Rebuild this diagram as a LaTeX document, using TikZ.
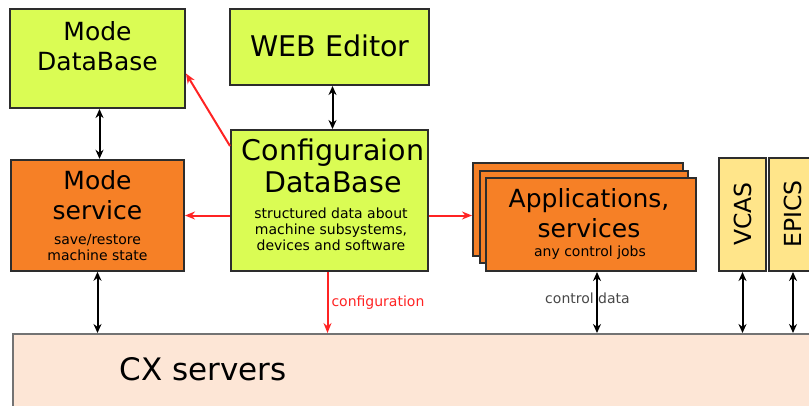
\documentclass[tikz,border=0pt]{standalone}
\usepackage{fontspec}
\setmainfont{DejaVu Sans}
\usetikzlibrary{arrows.meta}
\usetikzlibrary{calc}
\usetikzlibrary{positioning}

\definecolor{dbgreen}{RGB}{218,252,84}
\definecolor{svcorange}{RGB}{246,128,38}
\definecolor{protoyellow}{RGB}{255,229,138}
\definecolor{cxpeach}{RGB}{253,230,214}
\definecolor{cfgred}{RGB}{255,35,35}
\definecolor{edgegray}{RGB}{45,45,45}

\tikzset{
  box/.style={draw=edgegray,line width=2pt,rectangle,inner sep=0pt},
  dbbox/.style={box,fill=dbgreen},
  svcbox/.style={box,fill=svcorange},
  protobox/.style={box,fill=protoyellow},
  title/.style={font=\fontsize{25}{30}\selectfont,align=center,inner sep=0pt},
  bigtitle/.style={font=\fontsize{28.5}{32}\selectfont,align=center,inner sep=0pt},
  note/.style={font=\fontsize{14}{16}\selectfont,align=center,inner sep=0pt},
  link/.style={line width=2pt,{Stealth[length=9pt,width=8pt]}-{Stealth[length=9pt,width=8pt]}},
  cfglink/.style={line width=2pt,color=cfgred,-{Stealth[length=10pt,width=8pt]}}
}

\begin{document}
\begin{tikzpicture}[x=1pt,y=-1pt]

  \path [use as bounding box,clip] (0,0) rectangle (809,405);

  % boxes
  \node [dbbox,minimum width=175pt,minimum height=99pt] (modedb) at (97.5,58.5) {};
  \node [dbbox,minimum width=199pt,minimum height=76pt] (webed) at (329.5,47) {};
  \node [dbbox,minimum width=197pt,minimum height=141pt] (cfgdb) at (329.5,200.5) {};
  \node [svcbox,minimum width=173pt,minimum height=111pt] (modesvc) at (97.5,215.3) {};
  \node [svcbox,minimum width=210pt,minimum height=93pt] (appsback) at (578,209.5) {};
  \node [svcbox,minimum width=208pt,minimum height=92pt] (appsmid) at (584,217) {};
  \node [svcbox,minimum width=210pt,minimum height=93pt] (appsfront) at (591,224.5) {};
  \node [protobox,minimum width=47pt,minimum height=113pt] (vcas) at (742.5,214.5) {};
  \node [protobox,minimum width=48pt,minimum height=113pt] (epics) at (793,214.5) {};
  \node [box,draw=black!55,line width=1.5pt,fill=cxpeach,minimum width=830pt,minimum height=100pt,anchor=north west] (cx) at (12,333) {};

  % texts
  \node [title] (modedbtext) at (97.5,46.5) {Mode\\DataBase};
  \node [bigtitle] (webedtext) at (330,46) {WEB Editor};
  \node [bigtitle] (cfgdbtext) at (333,166) {Configuraion\\DataBase};
  \node [note] (cfgdbnote) at (331,229) {structured data about\\machine subsystems,\\devices and software};
  \node [title] (modesvctext) at (97.5,195) {Mode\\service};
  \node [note] (modesvcnote) at (97.5,247.5) {save/restore\\machine state};
  \node [title] (appstext) at (589,213) {Applications,\\services};
  \node [note] (appsnote) at (590,253) {any control jobs};
  \node [font=\fontsize{23.5}{28}\selectfont,rotate=90,inner sep=0pt] (vcastext) at (743,214) {VCAS};
  \node [font=\fontsize{23.5}{28}\selectfont,rotate=90,inner sep=0pt] (epicstext) at (793,214) {EPICS};
  \node [font=\fontsize{31}{35}\selectfont,inner sep=0pt] (cxtext) at (203,369) {CX servers};
  \node [note,text=black!72] (ctrllabel) at (587.5,298) {control data};

  % arrow ends
  \coordinate (mdbport)  at ([xshift=2pt]modedb.south);
  \coordinate (webport)  at ([xshift=3pt]webed.south);
  \coordinate (appsport) at ([xshift=6pt]appsfront.south);
  \coordinate (cfgport)  at ([xshift=-2pt]cfgdb.south);
  \coordinate (cfgwest)  at ([yshift=-15pt]cfgdb.west);
  \coordinate (cfgeast)  at ([yshift=-15pt]cfgdb.east);

  % connectors
  \path [link]
    (mdbport)       edge (mdbport |- modesvc.north)
    (webport)       edge (webport |- cfgdb.north)
    (modesvc.south) edge (modesvc.south |- cx.north)
    (appsport)      edge (appsport |- cx.north)
    (vcas.south)    edge (vcas.south |- cx.north)
    (epics.south)   edge (epics.south |- cx.north);

  \path [cfglink]
    ([yshift=-17pt]cfgdb.north west) edge ([yshift=-15pt]modedb.east)
    (cfgwest) edge (cfgwest -| modesvc.east)
    (cfgeast) edge (cfgeast -| appsback.west);

  \draw [cfglink] (cfgport) -- node [note,text=cfgred,right=3pt] (cfglabel) {configuration} (cfgport |- cx.north);

\end{tikzpicture}
\end{document}
